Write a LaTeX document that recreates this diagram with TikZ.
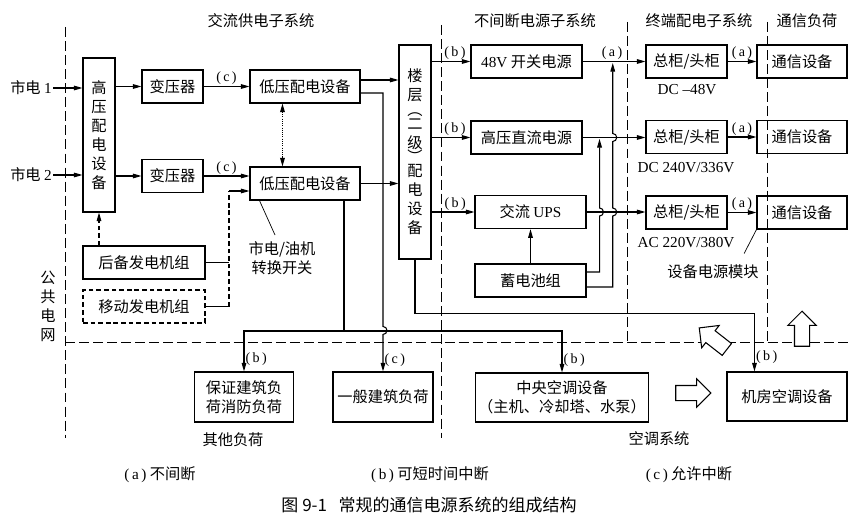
\documentclass[tikz,border=0pt]{standalone}
\usepackage{fontspec}
\setmainfont{Noto Sans CJK SC}
\newfontfamily\latinfont{Liberation Serif}
\usetikzlibrary{arrows.meta}
\usetikzlibrary{calc}
\usetikzlibrary{shapes.arrows}

\begin{document}
\begin{tikzpicture}[
    x = 0.03cm, y = -0.03cm,
    >= {Triangle[length = 2.6mm, width = 1.4mm]},
    every node/.style = {
      font = \fontsize{13}{16.2}\selectfont,
      align = center,
      inner sep = 1pt,
    },
    box/.style = {draw, line width = 0.9pt, inner sep = 2pt},
    wh/.style 2 args = {minimum width = #1cm, minimum height = #2cm},
    conn/.style = {line width = 0.9pt},
    arr/.style = {conn, ->},
    tag/.style = {font = \latinfont\fontsize{12}{14}\selectfont},
    volt/.style = {font = \latinfont\fontsize{13}{15}\selectfont},
    border/.style = {line width = 0.8pt, dash pattern = on 8.5pt off 3.5pt},
    dashline/.style = {dash pattern = on 4pt off 2.5pt},
    hollow/.style = {
      draw, line width = 0.9pt, fill = white, single arrow,
      minimum height = 1.05cm, inner xsep = 0pt, inner ysep = 0.21cm,
      single arrow head extend = 0.2cm,
    },
  ]
  \useasboundingbox (0,0) rectangle (852,516);

  % subsystem borders
  \draw[border] (65,27) -- (65,438);
  \draw[border] (441,25) -- (441,438);
  \draw[border] (627,22) -- (627,342);
  \draw[border] (767,22) -- (767,342);
  \draw[border] (65,342) -- (850,342);

  \node (hd1) at (261,21) {交流供电子系统};
  \node (hd2) at (535,21) {不间断电源子系统};
  \node (hd3) at (699,21) {终端配电子系统};
  \node (hd4) at (807,21) {通信负荷};
  \node (grid) at (48,306.5) {公\\共\\电\\网};

  % AC supply
  \node (mains1) at (31,88) {市电 {\latinfont 1}};
  \node (mains2) at (31,175) {市电 {\latinfont 2}};
  \node[box, wh = {0.96}{4.62}] (hv) at (99,135) {高\\压\\配\\电\\设\\备};
  \node[box, wh = {1.83}{0.99}] (tr1) at (172.5,86.5) {变压器};
  \node[box, wh = {1.83}{0.99}] (tr2) at (172.5,176) {变压器};
  \node[box, wh = {3.3}{0.99}] (lv1) at (305,86.5) {低压配电设备};
  \node[box, wh = {3.3}{0.99}] (lv2) at (305,183.5) {低压配电设备};
  \node[box, wh = {0.96}{6.42}] (flr) at (415,152)
    {楼\\层\\[-4pt]︵\\[-4pt]二\\级\\[-4pt]︶\\[-4pt]配\\电\\设\\备};
  \node[box, wh = {3.66}{0.99}] (gen) at (144,262.5) {后备发电机组};
  \node[box, dashline, wh = {3.66}{0.99}] (mgen) at (144,306.5) {移动发电机组};
  \node (swl) at (282,258) {市电/油机\\转换开关};

  % UPS subsystem
  \node[box, wh = {3.33}{0.99}] (sw48) at (526.5,61.5) {{\latinfont 48V} 开关电源};
  \node[box, wh = {3.33}{0.99}] (hvdc) at (526.5,137.5) {高压直流电源};
  \node[box, wh = {3.33}{1.0}] (ups) at (530.5,212) {交流 {\latinfont UPS}};
  \node[box, wh = {3.33}{0.99}] (batt) at (530.5,280.5) {蓄电池组};

  % terminal distribution and loads
  \foreach \i/\y in {1/61.5, 2/137, 3/212.5} {
    \node[box, wh = {2.43}{0.99}] (cab\i) at (686.5,\y) {总柜/头柜};
    \node[box, wh = {2.7}{0.99}] (tel\i) at (802,\y) {通信设备};
  }
  \node[volt] (v1) at (687,90) {DC –48V};
  \node[volt] (v2) at (686,168) {DC 240V/336V};
  \node[volt] (v3) at (686,243) {AC 220V/380V};
  \node (modl) at (713,272) {设备电源模块};

  % other loads and air conditioning
  \node[box, wh = {2.97}{1.5}] (bld1) at (244,397) {保证建筑负\\荷消防负荷};
  \node[box, wh = {3.0}{1.5}] (bld2) at (383,397) {一般建筑负荷};
  \node[box, wh = {4.98}{1.47}] (cac) at (562,397.5) {中央空调设备\\（主机、冷却塔、水泵）};
  \node[box, wh = {3.6}{1.47}] (rac) at (787,396.5) {机房空调设备};
  \node (oth) at (233,440) {其他负荷};
  \node (acs) at (659,439) {空调系统};
  \node[hollow] (ha1) at (689.5,393) {};
  \node[hollow, rotate = 142] (ha2) at (716,341) {};
  \node[hollow, rotate = 90] (ha3) at (802,332.5) {};

  % connectors
  \draw[arr] (mains1) -- (hv.west |- mains1);
  \draw[arr] (mains2) -- (hv.west |- mains2);
  \draw[arr] (hv.east |- tr1) -- (tr1);
  \draw[arr] (hv.east |- tr2) -- (tr2);
  \draw[arr] (tr1) -- node[tag, above] {(\,c\,)} (lv1);
  \draw[arr] (tr2.east) -- node[tag, above] {(\,c\,)} (lv2.west |- tr2.east);
  \draw[conn, <->, densely dotted] ($(lv1.south west)+(33,0)$) -- ($(lv2.north west)+(33,0)$);
  \draw[arr] ($(lv1.east)+(0,-6.5)$) -- ($(flr.west |- lv1.east)+(0,-6.5)$);
  \draw[arr] (lv2.east) -- (flr.west |- lv2.east);
  \draw[arr] ($(lv1.east)+(0,6.5)$) -| ($(bld2.north)+(0,-45)$)
    arc[start angle = -90, end angle = 90, radius = 4]
    -- node[tag, right, pos = 0.7] {(\,c\,)} (bld2.north);
  \coordinate (bus) at (344,331);
  \draw[conn] ($(lv2.south)+(39,0)$) -- (bus);
  \draw[arr] (bus) -| node[tag, right, pos = 0.85] {(\,b\,)} (bld1.north);
  \draw[arr] (bus) -| node[tag, right, pos = 0.85] {(\,b\,)} (cac.north);
  \draw[conn, line width = 0.6pt] ($(swl.north)+(-7,-5)$) -- ($(lv2.south west)+(10,0)$);

  \draw[arr, dashline] (gen.north -| hv) -- (hv.south);
  \coordinate (sw) at (229,191);
  \draw[conn] (gen) -- (gen -| sw);
  \draw[conn] (mgen) -- (mgen -| sw);
  \draw[conn, dashline] (mgen -| sw) -- (sw);
  \draw[arr] (sw) -- (lv2.west |- sw);

  \draw[arr] (flr.east |- sw48) -- node[tag, above, pos = 0.6] {(\,b\,)} (sw48);
  \draw[arr] (flr.east |- hvdc) -- node[tag, above, pos = 0.6] {(\,b\,)} (hvdc);
  \draw[arr] (flr.east |- ups) -- node[tag, above, pos = 0.55] {(\,b\,)} (ups);
  \draw[arr] (flr.south) |- ($(rac.north west)+(28,-58)$)
    -- node[tag, right, pos = 0.75] {(\,b\,)} ($(rac.north west)+(28,0)$);

  \draw[arr] (batt) -- (ups);
  \coordinate (t1) at ($(sw48.east)!0.48!(cab1.west)$);
  \coordinate (t2) at ($(hvdc.east)!0.27!(cab2.west)$);
  \draw[arr] ($(batt.east)+(0,-8.5)$) -| ($(t2 |- ups.east)+(0,4)$)
    arc[start angle = 90, end angle = -90, radius = 4] -- ($(t2)+(0,1.5)$);
  \draw[arr] ($(batt.east)+(0,6.5)$) -| ($(t1 |- ups.east)+(0,4)$)
    arc[start angle = 90, end angle = -90, radius = 4]
    -- ($(t1 |- hvdc.east)+(0,4)$)
    arc[start angle = 90, end angle = -90, radius = 4] -- ($(t1)+(0,1.5)$);

  \draw[arr] (sw48) -- node[tag, above, pos = 0.47] {(\,a\,)} (cab1);
  \draw[arr] (hvdc.east) -- (cab2.west |- hvdc.east);
  \draw[arr] (ups.east) -- (cab3.west |- ups.east);
  \foreach \i in {1,2,3}
    \draw[arr] (cab\i) -- node[tag, above] {(\,a\,)} (tel\i);
  \draw[conn, line width = 0.6pt] ($(modl.north east)+(-16,-10)$) -- (tel3.south west);

  % legend and caption
  \node (lga) at (160,475) {{\latinfont (\,a\,)} 不间断};
  \node (lgb) at (430,475) {{\latinfont (\,b\,)} 可短时间中断};
  \node (lgc) at (689,475) {{\latinfont (\,c\,)} 允许中断};
  \node[font = \fontsize{14.5}{17}\selectfont] (cap) at (429,505)
    {图 9-1\hspace{10pt}常规的通信电源系统的组成结构};
\end{tikzpicture}
\end{document}
